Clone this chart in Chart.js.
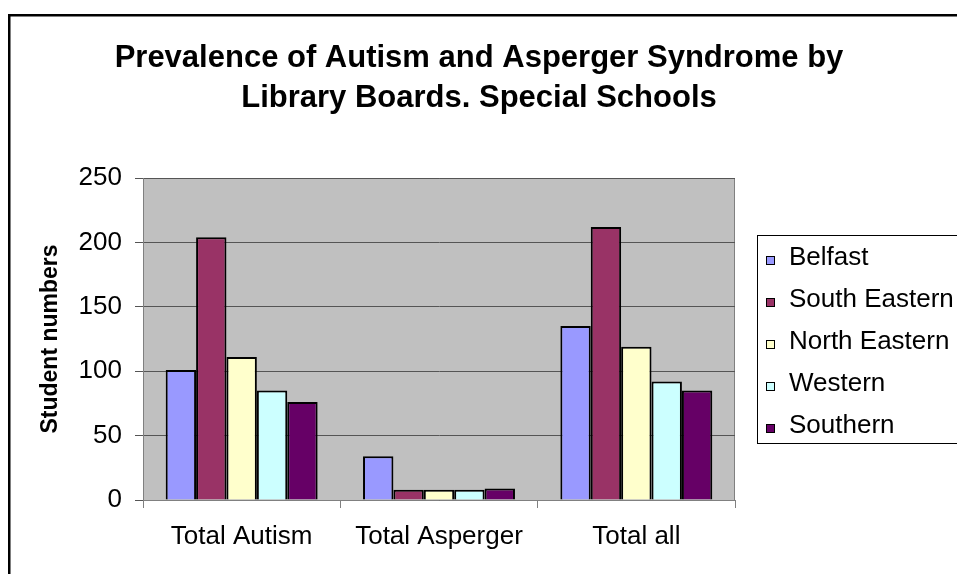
<!doctype html>
<html lang="en">
  <head>
    <meta charset="utf-8">
    <title>Prevalence of Autism and Asperger Syndrome by Library Boards</title>
    <style>
      * {
        margin: 0;
        padding: 0;
      }
      body {
        background: #fff;
        overflow: hidden;
      }
      .chartBox {
        width: 957px;
        height: 574px;
      }
    </style>
  </head>
  <body>
    <div class="chartBox">
      <canvas id="myChart"></canvas>
    </div>
    <script src="https://cdn.jsdelivr.net/npm/chart.js/dist/chart.umd.min.js"></script>
    <script>
    // data
    const categories = ['Total Autism', 'Total Asperger', 'Total all'];
    const boards = ['Belfast', 'South Eastern', 'North Eastern', 'Western', 'Southern'];
    const belfast = [101, 34, 135];
    const southEastern = [204, 8, 212];
    const northEastern = [111, 8, 119];
    const western = [85, 8, 92];
    const southern = [76, 9, 85];
    const yMin = 0, yMax = 250, yStep = 50;
    const titleLines = ['Prevalence of Autism and Asperger Syndrome by', 'Library Boards. Special Schools'];
    const yTitle = 'Student numbers';

    const colors = ['#9999ff', '#993366', '#ffffcc', '#ccffff', '#660066'];
    const fontFamily = '"Liberation Sans", Arial, sans-serif';
    Chart.defaults.font.family = fontFamily;
    Chart.defaults.color = '#000';

    const data = {
      labels: categories,
      datasets: [belfast, southEastern, northEastern, western, southern].map((values, i) => ({
        label: boards[i],
        data: values,
        backgroundColor: colors[i],
        borderColor: '#000',
        borderWidth: 2,
        categoryPercentage: 0.77,
        barPercentage: 1
      }))
    };

    // grey plot area, outer frame, title and boxed legend in the old spreadsheet style
    const excelLook = {
      id: 'excelLook',
      beforeDraw(chart) {
        const {ctx, chartArea: a} = chart;
        ctx.save();
        ctx.fillStyle = '#c0c0c0';
        ctx.fillRect(a.left, a.top, a.width, a.height);
        ctx.strokeStyle = '#808080';
        ctx.lineWidth = 1;
        ctx.strokeRect(a.left + 0.5, a.top + 0.5, a.width - 1, a.height);
        ctx.strokeStyle = '#000';
        ctx.lineWidth = 2.5;
        ctx.strokeRect(9.25, 15.25, 1000, 1000);
        ctx.restore();
      },
      afterDraw(chart) {
        const ctx = chart.ctx;
        ctx.save();
        // title
        ctx.fillStyle = '#000';
        ctx.font = 'bold 31px ' + fontFamily;
        ctx.textAlign = 'center';
        ctx.textBaseline = 'alphabetic';
        ctx.fillText(titleLines[0], 479, 67);
        ctx.fillText(titleLines[1], 479, 107);
        // legend
        ctx.strokeStyle = '#000';
        ctx.lineWidth = 1;
        ctx.strokeRect(757.5, 235.5, 300, 208);
        ctx.font = '26px ' + fontFamily;
        ctx.textAlign = 'left';
        chart.data.datasets.forEach((ds, i) => {
          const base = 265 + i * 42;
          ctx.fillStyle = ds.backgroundColor;
          ctx.fillRect(766, base - 8, 8, 8);
          ctx.strokeRect(766.5, base - 8.5, 8, 8);
          ctx.fillStyle = '#000';
          ctx.fillText(ds.label, 789, base);
        });
        ctx.restore();
      }
    };

    const config = {
      type: 'bar',
      data,
      options: {
        responsive: true,
        maintainAspectRatio: false,
        animation: false,
        layout: {
          padding: {top: 178, right: 222, bottom: 0, left: 0}
        },
        plugins: {
          legend: {display: false},
          tooltip: {enabled: false}
        },
        scales: {
          x: {
            grid: {offset: true, drawOnChartArea: false, tickLength: 8, color: '#808080'},
            border: {color: '#808080'},
            ticks: {font: {size: 26}, padding: 13, maxRotation: 0},
            afterFit(scale) { scale.height = 74; }
          },
          y: {
            min: yMin,
            max: yMax,
            ticks: {stepSize: yStep, font: {size: 26}, padding: 13},
            grid: {color: '#555555', tickLength: 8},
            border: {color: '#808080'},
            title: {
              display: true,
              text: yTitle,
              font: {size: 23, weight: 'bold'},
              padding: {top: 37, bottom: 0}
            },
            afterFit(scale) { scale.width = 143; }
          }
        }
      },
      plugins: [excelLook]
    };

    const myChart = new Chart(document.getElementById('myChart'), config);
    </script>
  </body>
</html>
